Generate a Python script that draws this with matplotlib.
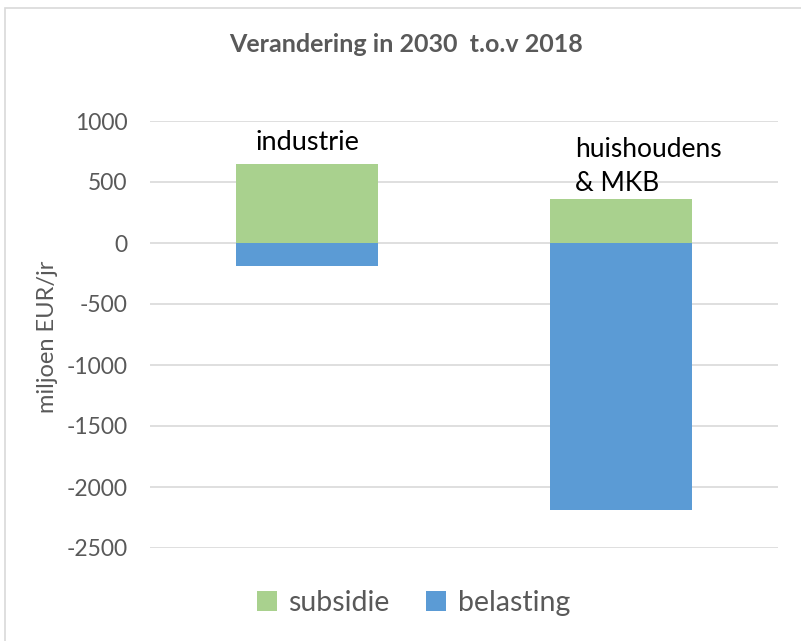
import numpy as np
import matplotlib.pyplot as plt
from matplotlib.patches import Rectangle

# waarden (miljoen EUR/jr)
categorieen = ["industrie", "huishoudens\n& MKB"]
subsidie = [644, 359]
belasting = [-190, -2190]

GROEN = "#A9D18E"
BLAUW = "#5B9BD5"
GRIJS = "#595959"

plt.rcParams["font.family"] = ["Lato", "DejaVu Sans"]
plt.rcParams["axes.unicode_minus"] = False

fig = plt.figure(figsize=(8.01, 6.41), dpi=100)
ax = fig.add_axes([150 / 801, 93 / 641, 628 / 801, 427 / 641])

x = np.arange(len(categorieen))
ax.bar(x, subsidie, width=0.45, color=GROEN, label="subsidie", zorder=3)
ax.bar(x, belasting, width=0.45, color=BLAUW, label="belasting", zorder=3)

ax.set_xlim(-0.5, 1.5)
ax.set_ylim(-2500, 1000)
ax.set_yticks(np.arange(-2500, 1001, 500))
ax.set_xticks([])
ax.grid(axis="y", color="#d9d9d9", lw=1.2, zorder=0)
for s in ax.spines.values():
    s.set_visible(False)
ax.tick_params(axis="y", length=0, pad=16, labelsize=16.5, labelcolor=GRIJS)
ax.set_ylabel("miljoen EUR/jr", fontsize=17, color=GRIJS)
ax.yaxis.set_label_coords(-0.146, 0.494)

# categorie-labels boven de staven
ax.text(0, 823, categorieen[0], ha="center", va="center", fontsize=19.5, color="black")
ax.text(0.855, 870, categorieen[1], ha="left", va="top", fontsize=19,
        color="black", linespacing=1.45)

fig.text(0.507, 0.93, "Verandering in 2030  t.o.v 2018", ha="center", va="center",
         fontsize=18, fontweight="bold", color=GRIJS)

fig.legend(loc="center", bbox_to_anchor=(0.516, 0.059), ncol=2, frameon=False,
           fontsize=20.5, labelcolor=GRIJS, handlelength=0.7, handleheight=0.7,
           handletextpad=0.4, columnspacing=1.3)

# rand van het grafiekgebied
fig.patches.append(Rectangle((5 / 801, -0.1), 1.1, 0.1 + (641 - 8) / 641,
                             transform=fig.transFigure, fill=False,
                             edgecolor="#d9d9d9", lw=1.2))

fig.savefig("out.png", dpi=100)
